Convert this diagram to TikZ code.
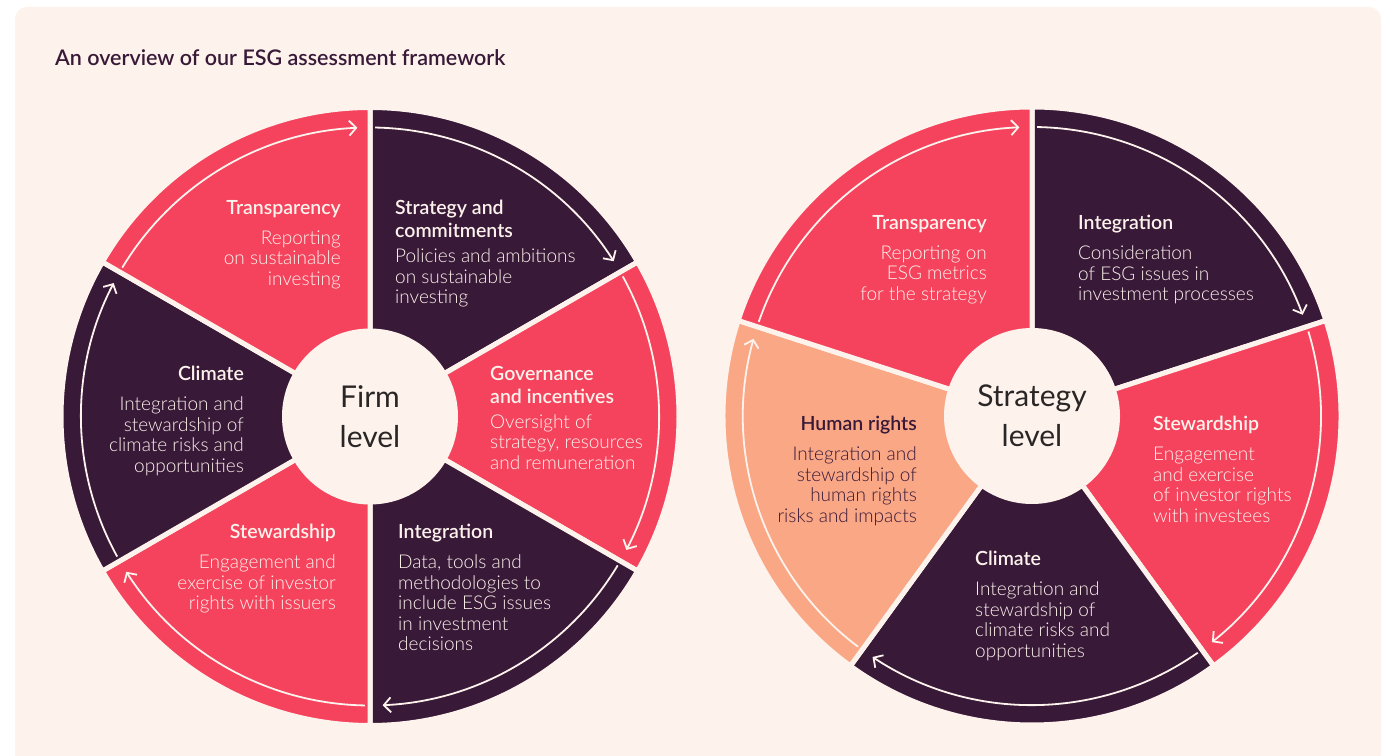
\documentclass[tikz,border=0pt]{standalone}
\usepackage{fontspec}
\setmainfont{Lato}
\newfontfamily\lightfont{Lato Light}
\newfontfamily\semifont{Lato Semibold}
\usetikzlibrary{arrows.meta}
\definecolor{rosa}{RGB}{245,67,94}
\definecolor{prugna}{RGB}{56,25,56}
\definecolor{pesca}{RGB}{250,167,134}
\definecolor{crema}{RGB}{253,243,236}
\definecolor{grafite}{RGB}{42,38,38}
\tikzstyle{wheel chart}=[
    x=1pt, y=1pt,
    slice/.style={line join=round, line width=5pt, draw=crema},
    flow/.style={draw=crema, line width=1.8pt, -{Straight Barb[length=7pt,width=15pt]}},
    hub/.style={font={\fontsize{30}{40}\selectfont}, text=grafite, align=center},
    box/.style={inner sep=0pt, text=crema, font={\lightfont\fontsize{19}{20.5}\selectfont}},
    box left/.style={box, align=left, anchor=north west},
    box right/.style={box, align=right, anchor=north east},
]
\newcommand{\head}[1]{{\semifont\fontsize{19.5}{20.5}\selectfont #1}}
% one wheel: slices run clockwise from the top, each with its own arrow
\newcommand{\wheel}[4][]{
    \begin{scope}[#1]
    \pgfmathsetmacro{\curA}{90}
    \foreach \v/\s in {#4}{
        \pgfmathsetmacro{\nextA}{\curA - \v}
        \pgfmathsetmacro{\fromA}{\curA - 1}
        \pgfmathsetmacro{\toA}{\nextA + 2.5}
        \path[slice,fill=\s] (0,0) -- (\curA:309) arc (\curA:\nextA:309) -- cycle;
        \draw[flow] (\fromA:289) arc (\fromA:\toA:289);
        \global\let\curA\nextA
    }
    \fill[crema] (0,0) circle (88);
    \node[hub] (#2) at (0,0) {#3};
    \end{scope}
}

\begin{document}
\begin{tikzpicture}[wheel chart]
    \useasboundingbox (0,0) rectangle (1384,755);
    \fill[white] (0,0) rectangle (1384,755);
    \fill[crema, rounded corners=12pt] (15,-20) rectangle (1381,748);

    \node[anchor=west, inner sep=0pt, text=prugna, font={\semifont\fontsize{21.5}{24}\selectfont}] (title) at (55,697)
        {An overview of our ESG assessment framework};

    % firm level
    \wheel[shift={(370,338.5)}]{firm}{Firm\\level}{60/prugna, 60/rosa, 60/prugna, 60/rosa, 60/prugna, 60/rosa}

    \node[box right] (ftransp) at (341,555) {\head{Transparency}\\[9.5pt]Reporting\\on sustainable\\investing};
    \node[box left] (fstrategy) at (395,555) {\head{Strategy and}\\[2.5pt]\head{commitments}\\[4.5pt]Policies and ambitions\\on sustainable\\investing};
    \node[box left] (fgovern) at (490,389) {\head{Governance}\\[2.5pt]\head{and incentives}\\[4.5pt]Oversight of\\strategy, resources\\and remuneration};
    \node[box left] (fintegr) at (398,231) {\head{Integration}\\[9.5pt]Data, tools and\\methodologies to\\include ESG issues\\in investment\\decisions};
    \node[box right] (fsteward) at (336,231) {\head{Stewardship}\\[9.5pt]Engagement and\\exercise of investor\\rights with issuers};
    \node[box right] (fclimate) at (244,389) {\head{Climate}\\[9.5pt]Integration and\\stewardship of\\climate risks and\\opportunities};

    % strategy level
    \wheel[shift={(1032,339)}]{strat}{Strategy\\level}{72/prugna, 72/rosa, 72/prugna, 72/pesca, 72/rosa}

    \node[box right] (stransp) at (987,540) {\head{Transparency}\\[9.5pt]Reporting on\\ESG metrics\\for the strategy};
    \node[box left] (sinteg) at (1078,540) {\head{Integration}\\[9.5pt]Consideration\\of ESG issues in\\investment processes};
    \node[box left] (ssteward) at (1153,339) {\head{Stewardship}\\[9.5pt]Engagement\\and exercise\\of investor rights\\with investees};
    \node[box left] (sclimate) at (975,204) {\head{Climate}\\[9.5pt]Integration and\\stewardship of\\climate risks and\\opportunities};
    \node[box right, text=prugna] (shuman) at (917,339) {\head{Human rights}\\[9.5pt]Integration and\\stewardship of\\human rights\\risks and impacts};
\end{tikzpicture}
\end{document}
